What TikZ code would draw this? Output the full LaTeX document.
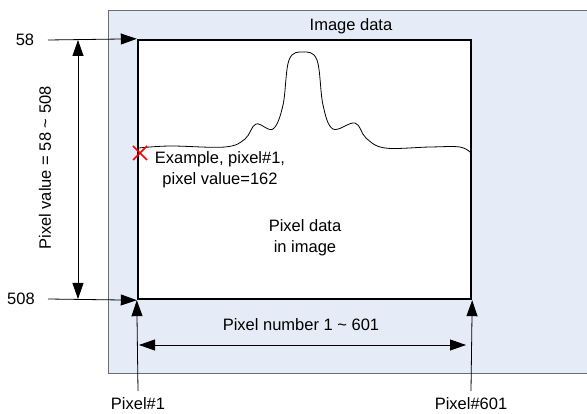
\documentclass[tikz,border=0pt]{standalone}
\usepackage{fontspec}
\setmainfont{Liberation Sans}
\usetikzlibrary{positioning,arrows.meta}

\definecolor{panelblue}{RGB}{230,236,247}
\definecolor{framegray}{RGB}{110,110,110}

\begin{document}
\begin{tikzpicture}[
    x=1pt, y=-1pt,
    font=\fontsize{16.5}{21}\selectfont,
    databox/.style={draw, line width=2.4pt, fill=white, minimum width=333pt, minimum height=259pt,
                inner sep=0pt},
    arrow/.style={-{Triangle[length=16pt,width=11pt]}, line width=0.8pt},
    both/.style={{Triangle[length=16pt,width=11pt]}-{Triangle[length=16pt,width=11pt]}, line width=0.8pt},
    lbl/.style={inner sep=0pt, align=center}
]
    \useasboundingbox (0,0) rectangle (587,414);

    % image area
    \fill[panelblue] (108,10) rectangle (587,373);
    \draw[framegray, line width=0.8pt] (587,10) -| (108,373) -- (587,373);
    \node[databox] (data) at (304.5,169.5) {};
    \node[lbl] (imgdata) at (351,26) {Image data};
    \node[lbl] (pixdata) at (305,238) {Pixel data\\in image};

    % pixel profile
    \draw[line width=0.8pt] plot[smooth, tension=0.6] coordinates {
        (139,148) (170,146) (225,147) (245,139) (256,124) (273,129) (283,105)
        (289,60) (303,52) (317,60) (323,105) (333,129) (355,123) (366,138)
        (385,148) (430,147) (460,147) (471,153)};
    \node[lbl] (example) at (220,170) {Example, pixel\#1,\\pixel value=162};
    \coordinate (mark) at (140,153);
    \draw[red, line width=1.6pt] ([shift={(-7,-7)}]mark) -- ([shift={(7,7)}]mark)
        ([shift={(-7,7)}]mark) -- ([shift={(7,-7)}]mark);

    % pixel value axis
    \node[lbl] (top) at (25,40) {58};
    \node[lbl] (bottom) at (21,299) {508};
    \coordinate (topstart) at (48,40);
    \coordinate (botstart) at (48,299);
    \draw[arrow] (topstart) -- (data.north west);
    \draw[arrow] (botstart) -- (data.south west);
    \coordinate (vtop) at (78,40);
    \coordinate (vbot) at (78,299);
    \draw[both] (vbot) -- (vtop);
    \node[lbl, rotate=90] (vrange) at (45,168) {Pixel value = 58 \textasciitilde{} 508};

    % pixel number axis
    \node[lbl] (first) at (138,404) {Pixel\#1};
    \node[lbl] (last) at (471,404) {Pixel\#601};
    \coordinate (firstend) at (138,391);
    \coordinate (lastend) at (471,391);
    \draw[arrow] (firstend) -- (data.south west);
    \draw[arrow] (lastend) -- (data.south east);
    \coordinate (hleft) at (139,345);
    \coordinate (hright) at (466,345);
    \draw[both] (hleft) -- (hright);
    \node[lbl] (hrange) at (301,325) {Pixel number 1 \textasciitilde{} 601};
\end{tikzpicture}
\end{document}
